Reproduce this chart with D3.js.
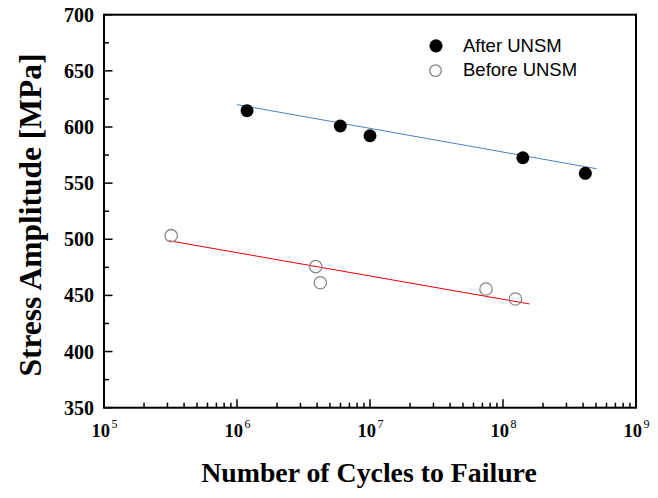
<!DOCTYPE html>
<html><head><meta charset="utf-8">
<script src="https://cdn.jsdelivr.net/npm/d3@7"></script>
<style>body{margin:0;background:#fff}svg{display:block}</style>
</head><body>
<script>
const afterCycles = [1.19e6, 5.98e6, 1.0e7, 1.41e8, 4.16e8];
const afterStress = [614.5, 600.9, 592.2, 572.6, 558.7];
const beforeCycles = [3.2e5, 3.91e6, 4.23e6, 7.45e7, 1.24e8];
const beforeStress = [503.2, 475.6, 461.3, 455.7, 446.8];
const afterFitCycles = [1.0e6, 5.06e8];
const afterFitStress = [619.9, 562.8];
const beforeFitCycles = [3.08e5, 1.58e8];
const beforeFitStress = [498.7, 442.4];
const xTickExponents = [5, 6, 7, 8, 9];
const yTicks = [350, 400, 450, 500, 550, 600, 650, 700];
const legendLabels = ["After UNSM", "Before UNSM"];

const W = 658, H = 498;
const L = 104, R = 636, T = 14.7, B = 407.7;
const svg = d3.select("body").append("svg").attr("width", W).attr("height", H);
const x = d3.scaleLog().domain([1e5, 1e9]).range([L, R]);
const y = d3.scaleLinear().domain([350, 700]).range([B, T]);

const g = svg.append("g");
for (let e = 5; e < 9; e++) {
  for (let k = 1; k <= 9; k++) {
    const v = k * Math.pow(10, e);
    const len = k === 1 ? 8.5 : 5;
    g.append("line").attr("x1", x(v)).attr("x2", x(v)).attr("y1", B).attr("y2", B - len)
      .attr("stroke", "#000").attr("stroke-width", 1.5);
  }
}
for (let v = 350; v <= 700; v += 25) {
  const major = v % 50 === 0;
  const len = major ? 8.5 : 5;
  g.append("line").attr("x1", L).attr("x2", L + len).attr("y1", y(v)).attr("y2", y(v))
    .attr("stroke", "#000").attr("stroke-width", 1.5);
}
svg.append("rect").attr("x", L).attr("y", T).attr("width", R - L).attr("height", B - T)
  .attr("fill", "none").attr("stroke", "#000").attr("stroke-width", 2);

svg.append("g").selectAll("text").data(yTicks).join("text")
  .attr("x", L - 10).attr("y", d => y(d)).attr("dy", "0.35em")
  .attr("text-anchor", "end")
  .attr("font-family", "Liberation Serif").attr("font-weight", "bold").attr("font-size", 20)
  .text(d => d);

const xl = svg.append("g").selectAll("text").data(xTickExponents).join("text")
  .attr("x", d => x(Math.pow(10, d)) - 12.5).attr("y", B + 29)
  .attr("text-anchor", "start")
  .attr("font-family", "Liberation Serif").attr("font-weight", "bold").attr("font-size", 18.5);
xl.append("tspan").text("10");
xl.append("tspan").attr("dx", 1.5).attr("dy", -8.5).attr("font-size", 12).attr("font-weight", "normal").text(d => d);

const line = d3.line().x(d => x(d[0])).y(d => y(d[1]));
svg.append("path").datum(d3.zip(afterFitCycles, afterFitStress)).attr("d", line)
  .attr("fill", "none").attr("stroke", "#4f81bd").attr("stroke-width", 1);
svg.append("path").datum(d3.zip(beforeFitCycles, beforeFitStress)).attr("d", line)
  .attr("fill", "none").attr("stroke", "#e8000b").attr("stroke-width", 1);

svg.append("g").selectAll("circle").data(d3.zip(afterCycles, afterStress)).join("circle")
  .attr("cx", d => x(d[0])).attr("cy", d => y(d[1])).attr("r", 6.5).attr("fill", "#000");
svg.append("g").selectAll("circle").data(d3.zip(beforeCycles, beforeStress)).join("circle")
  .attr("cx", d => x(d[0])).attr("cy", d => y(d[1])).attr("r", 6.2)
  .attr("fill", "none").attr("stroke", "#888").attr("stroke-width", 1.3);

svg.append("circle").attr("cx", 436).attr("cy", 45.8).attr("r", 6.6).attr("fill", "#000");
svg.append("circle").attr("cx", 435.5).attr("cy", 70.6).attr("r", 5.8).attr("fill", "none").attr("stroke", "#888").attr("stroke-width", 1.3);
svg.append("g").selectAll("text").data(legendLabels).join("text")
  .attr("x", 463).attr("y", (d, i) => 45.8 + i * 23.8).attr("dy", "0.35em")
  .attr("font-family", "Liberation Sans").attr("font-size", 18.5).text(d => d);

svg.append("text").attr("x", 369).attr("y", 481.5).attr("text-anchor", "middle")
  .attr("font-family", "Liberation Serif").attr("font-weight", "bold").attr("font-size", 27.8)
  .text("Number of Cycles to Failure");
svg.append("text").attr("transform", "translate(41,215) rotate(-90)").attr("text-anchor", "middle")
  .attr("font-family", "Liberation Serif").attr("font-weight", "bold").attr("font-size", 31.5)
  .text("Stress Amplitude [MPa]");
</script>
</body></html>
